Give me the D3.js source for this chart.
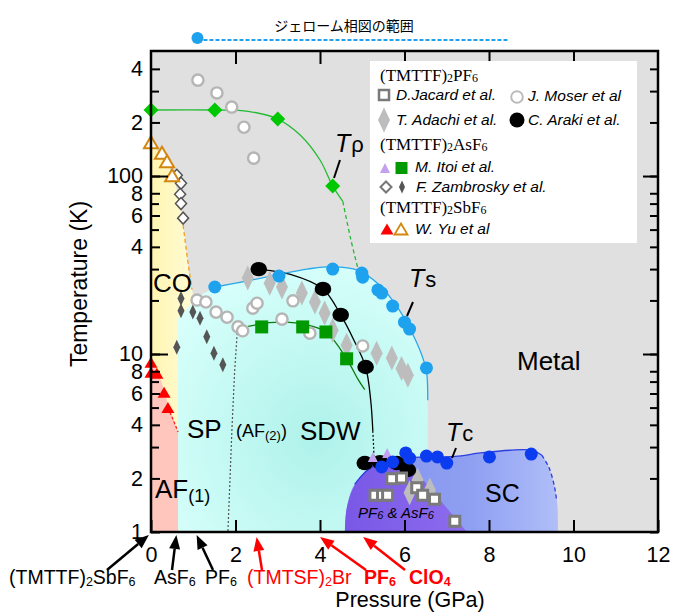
<!DOCTYPE html>
<html><head><meta charset="utf-8">
<script src="https://cdn.jsdelivr.net/npm/d3@7/dist/d3.min.js"></script>
<style>
html,body{margin:0;padding:0;background:#fff;}
svg{display:block;font-family:"Liberation Sans",Arial,sans-serif;}
</style></head><body>
<svg id="chart" width="673" height="613"></svg>
<script>
// ---------- axes ----------
const xTicks=[0,2,4,6,8,10,12];
const yTicksLabeled=[1,2,4,6,8,10,40,60,80,100,200,400];
const yTickText=["1","2","4","6","8","10","4","6","8","100","2","4"];
const yTicksMinor=[3,5,7,20,30,50,70,300];
const yTicksDecade=[10,100];
const jeromeRange=[1.1,8.45];

// ---------- series (pressure GPa, temperature K) ----------
const tRho=[[0,235],[1.51,235],[3.0,209],[4.3,88]];
const tRhoLine=[[0,235],[1.51,235],[2.3,231],[3.0,209],[3.53,170],[4.0,123],[4.3,88],[4.54,72]];
const tRhoDash=[[4.54,72],[4.72,45],[4.9,30]];

const moser=[[1.11,346],[1.56,293],[1.91,244],[2.20,188],[2.43,126],
 [1.09,20.1],[1.30,19.6],[1.54,17.2],[1.80,16.1],[2.06,14.2],[2.17,13.5],[2.41,18.1],[2.51,19.3],[3.10,15.7],[3.36,19.9],[3.76,13.1],[5.01,11.1]];

const araki=[[2.55,30],[4.07,23.2],[4.49,16.6],[5.08,8.45],[5.06,2.44],[5.42,2.47],[5.82,2.44],[6.08,2.23]];
const arakiLine=[[2.62,29.8],[3.3,28],[4.07,23.2],[4.49,16.6],[4.8,12],[5.08,8.45],[5.2,5.5],[5.25,3.7]];
const arakiDot=[[5.25,3.7],[5.27,3.0],[5.28,2.5]];

const ts=[[1.51,23.8],[3.03,27.4],[4.30,30.0],[4.99,28.5],[5.01,27],[5.37,22.9],[5.46,22],[5.72,18.6],[6.0,15.1],[6.12,13.8],[6.52,8.35]];
const tsLine=[[1.51,23.8],[2.3,25.8],[3.03,28],[3.7,30],[4.3,31],[4.9,29.5],[5.4,24.5],[5.8,18.8],[6.12,14.0],[6.4,10.0],[6.52,8.0],[6.55,5.5]];

const tc=[[5.46,2.32],[5.72,2.47],[6.03,2.78],[6.12,2.6],[6.52,2.67],[6.78,2.64],[7.0,2.44],[8.01,2.64],[9.0,2.74]];
const tcLine=[[4.82,1.85],[5.1,2.2],[5.5,2.5],[6.0,2.62],[6.6,2.64],[7.2,2.66],[7.8,2.78],[8.5,2.88],[9.0,2.88],[9.25,2.7]];
const tcDash=[[9.25,2.7],[9.42,2.3],[9.55,1.8],[9.6,1.5]];

const adachi=[[2.29,26.7],[2.81,25],[3.10,23.8],[3.57,22],[3.88,19.6],[4.11,17],[4.30,13.6],[4.63,11.2],[5.34,10.1],[5.70,9.5],[5.93,8.3],[6.08,7.6],[6.12,1.66],[6.31,1.96],[6.6,1.72]];
const jacard=[[5.30,1.61],[5.48,1.61],[5.60,1.61],[5.70,1.99],[5.93,2.01],[6.29,1.77],[6.43,1.61],[6.71,1.53],[7.19,1.15]];

const itoiSq=[[2.62,14.2],[3.59,14.2],[4.14,13.3],[4.63,9.4]];
const itoiLine=[[2.3,14.3],[2.8,15.0],[3.2,15.1],[3.6,14.7],[4.14,13.3],[4.63,9.4],[4.9,7.2],[5.06,6.3]];
const itoiTri=[[5.25,2.64],[5.59,2.78]];

const zambOpen=[[0.61,101],[0.71,91],[0.69,79],[0.71,70],[0.76,58]];
const zambFill=[[0.71,20.5],[0.71,17.5],[0.99,17.2],[1.16,15.9],[1.32,12.5],[0.61,10.9],[1.49,10.1],[1.70,8.7]];

const yuFill=[[0,9.0],[0,7.9],[0.14,7.8],[0.31,6.1],[0.40,5.0]];
const yuOpen=[[0,155],[0.26,135],[0.38,121],[0.50,101]];

// ---------- phase regions / boundaries ----------
const coRegion=[[0,153],[0.33,123],[0.5,101],[0.62,83],[0.69,69],[0.76,53],[0.85,36],[0.92,26],[0.99,22],[0.99,1],[0,1]];
const afRegion=[[0,9.5],[0.14,8.2],[0.31,6.3],[0.40,5.2],[0.64,3.65],[0.64,1],[0,1]];
const sdwLeft=[[0.64,1],[0.64,15.9],[0.92,18.8],[1.2,21.5]];
const sdwRight=[[6.55,1]];
const scRegion=[[4.59,1],[4.62,1.3],[4.72,1.65],[4.82,1.85],[5.1,2.2],[5.5,2.5],[6.0,2.62],[6.6,2.64],[7.2,2.66],[7.8,2.78],[8.5,2.88],[9.0,2.88],[9.25,2.7],[9.42,2.3],[9.55,1.8],[9.62,1.4],[9.63,1]];
const scDark=[[4.59,1],[4.63,1.35],[4.78,1.75],[5.0,2.1],[5.3,2.42],[5.7,2.58],[6.0,2.52],[6.13,2.4]];
const scDarkEnd=[[7.48,1]];
const redDash=[[0.40,5.0],[0.52,4.3],[0.64,3.65]];
const orangeDash=[[0.76,53],[0.85,36],[0.97,23]];
const grayDot=[[2.04,13.1],[1.98,8],[1.92,4],[1.87,2],[1.82,1]];

// ---------- setup ----------
const svg=d3.select("#chart");
const L=151,R=658,T=51,B=532;
const x=d3.scaleLinear().domain([0,12]).range([L,R]);
const y=d3.scaleLog().domain([1,504]).range([B,T]);
const defs=svg.append("defs");
function lin(id,stops,x2="100%",y2="0%"){const g=defs.append("linearGradient").attr("id",id).attr("x1","0%").attr("y1","0%").attr("x2",x2).attr("y2",y2);stops.forEach(s=>g.append("stop").attr("offset",s[0]).attr("stop-color",s[1]));}
lin("gYel",[["0%","#fff5b0"],["100%","#fffbd6"]]);
lin("gSc",[["0%","#8090ee"],["60%","#8fa0f2"],["100%","#b0bef8"]]);
lin("gDark",[["0%","#7858e6"],["100%","#8e6cee"]]);
const rg=defs.append("radialGradient").attr("id","gCy").attr("cx","55%").attr("cy","65%").attr("r","70%");
rg.append("stop").attr("offset","0%").attr("stop-color","#aef2ea");
rg.append("stop").attr("offset","100%").attr("stop-color","#d8fffb");
defs.append("clipPath").attr("id","clip").append("rect").attr("x",L).attr("y",T).attr("width",R-L).attr("height",B-T);

const lineLin=d3.line().x(d=>x(d[0])).y(d=>y(d[1]));
const lineCR=d3.line().x(d=>x(d[0])).y(d=>y(d[1])).curve(d3.curveCatmullRom);
const pts=a=>a.map(d=>`${x(d[0])},${y(d[1])}`).join("L");

svg.append("rect").attr("x",L).attr("y",T).attr("width",R-L).attr("height",B-T).attr("fill","#e0e0e0");
const reg=svg.append("g").attr("clip-path","url(#clip)");
reg.append("path").attr("d",lineCR(coRegion.slice(0,9))+"L"+pts(coRegion.slice(9))+"Z").attr("fill","url(#gYel)");
reg.append("path").attr("d","M"+pts(sdwLeft)+"L"+lineCR(tsLine).slice(1)+"L"+pts(sdwRight)+"Z").attr("fill","url(#gCy)");
reg.append("path").attr("d",lineLin(afRegion)+"Z").attr("fill","#ffc6bd");
reg.append("path").attr("d",lineCR(scRegion)+"Z").attr("fill","url(#gSc)");
reg.append("path").attr("d",lineCR(scDark)+"L"+pts(scDarkEnd)+"Z").attr("fill","url(#gDark)");

// boundary lines
const ln=svg.append("g").attr("fill","none");
ln.append("path").attr("d",lineLin(grayDot)).attr("stroke","#555").attr("stroke-width",1.2).attr("stroke-dasharray","2,2");
ln.append("path").attr("d",lineCR(tRhoLine)).attr("stroke","#22bb33").attr("stroke-width",1.3);
ln.append("path").attr("d",lineCR(tRhoDash)).attr("stroke","#22bb33").attr("stroke-width",1.3).attr("stroke-dasharray","4,3");
ln.append("path").attr("d",lineCR(arakiLine)).attr("stroke","#000").attr("stroke-width",1.3);
ln.append("path").attr("d",lineLin(arakiDot)).attr("stroke","#000").attr("stroke-width",1.2).attr("stroke-dasharray","2,2");
ln.append("path").attr("d",lineCR(itoiLine)).attr("stroke","#0a7a0a").attr("stroke-width",1.3);
ln.append("path").attr("d",lineCR(tsLine)).attr("stroke","#29a8e8").attr("stroke-width",1.3);
ln.append("path").attr("d",lineCR(tcLine)).attr("stroke","#2a3fe0").attr("stroke-width",1.3);
ln.append("path").attr("d",lineCR(tcDash)).attr("stroke","#2a3fe0").attr("stroke-width",1.3).attr("stroke-dasharray","4,3");
ln.append("path").attr("d",lineLin(redDash)).attr("stroke","#ff2020").attr("stroke-width",1.3).attr("stroke-dasharray","3,2");
ln.append("path").attr("d",lineLin(orangeDash)).attr("stroke","#f0a020").attr("stroke-width",1.3).attr("stroke-dasharray","4,3");

// markers
const mk=svg.append("g");
const diamond=(cx,cy,hw,hh)=>`M${cx},${cy-hh}L${cx+hw},${cy}L${cx},${cy+hh}L${cx-hw},${cy}Z`;
const tri=(cx,cy,hw,hh)=>`M${cx},${cy-hh}L${cx+hw},${cy+hh}L${cx-hw},${cy+hh}Z`;
function paths(data,fn,attrs){const s=mk.selectAll(null).data(data).enter().append("path").attr("d",d=>fn(x(d[0]),y(d[1])));Object.entries(attrs).forEach(([k,v])=>s.attr(k,v));}
paths(adachi,(a,b)=>diamond(a,b,6,12.5),{fill:"#bdbdbd"});
paths(zambFill,(a,b)=>diamond(a,b,3.5,7.5),{fill:"#555"});
paths(zambOpen,(a,b)=>diamond(a,b,5.5,6),{fill:"#fff",stroke:"#555","stroke-width":1.5});
paths(yuOpen,(a,b)=>tri(a,b,7,6),{fill:"#fff",stroke:"#d4870e","stroke-width":2});
paths(yuFill,(a,b)=>tri(a,b,6.5,5.5),{fill:"#ff0000"});
mk.selectAll(null).data(moser).enter().append("circle").attr("cx",d=>x(d[0])).attr("cy",d=>y(d[1])).attr("r",5.6).attr("fill","#fff").attr("stroke","#b5b5b5").attr("stroke-width",2.4);
paths(itoiSq,(a,b)=>`M${a-6.5},${b-6.5}h13v13h-13Z`,{fill:"#009a00"});
paths(tRho,(a,b)=>diamond(a,b,7.5,7.5),{fill:"#00c800"});
mk.selectAll(null).data(ts).enter().append("circle").attr("cx",d=>x(d[0])).attr("cy",d=>y(d[1])).attr("r",6.5).attr("fill","#1ea2ee");
mk.selectAll(null).data(araki).enter().append("ellipse").attr("cx",d=>x(d[0])).attr("cy",d=>y(d[1])).attr("rx",8.3).attr("ry",7.2).attr("fill","#000");
paths(itoiTri,(a,b)=>tri(a,b,5,5),{fill:"#c4a0f0"});
mk.selectAll(null).data(tc).enter().append("circle").attr("cx",d=>x(d[0])).attr("cy",d=>y(d[1])).attr("r",6.5).attr("fill","#0c3cf0");
paths(jacard,(a,b)=>`M${a-5},${b-5}h10v10h-10Z`,{fill:"#fff",stroke:"#7a7a7a","stroke-width":3});

// ---------- axes ----------
const ax=svg.append("g").attr("font-size",22);
function styleAx(g){g.select(".domain").remove();g.selectAll("line").attr("stroke","#000").attr("stroke-width",2);g.selectAll("text").attr("font-family","Liberation Sans, Arial, sans-serif").attr("font-size",21.5).attr("fill","#000");}
const labMap=new Map(yTicksLabeled.map((v,i)=>[v,yTickText[i]]));
ax.append("g").attr("transform",`translate(${L},0)`).call(d3.axisLeft(y).tickValues(yTicksLabeled).tickSize(-9).tickPadding(8).tickFormat(d=>labMap.get(d))).call(styleAx);
ax.append("g").attr("transform",`translate(${L},0)`).call(d3.axisLeft(y).tickValues(yTicksMinor).tickSize(-8).tickFormat("")).call(styleAx);
ax.append("g").attr("transform",`translate(${L},0)`).call(d3.axisLeft(y).tickValues(yTicksDecade).tickSize(-17).tickFormat("")).call(styleAx);
ax.append("g").attr("transform",`translate(${R},0)`).call(d3.axisRight(y).tickValues(yTicksLabeled.concat(yTicksMinor)).tickSize(-8).tickFormat("")).call(styleAx);
ax.append("g").attr("transform",`translate(${R},0)`).call(d3.axisRight(y).tickValues(yTicksDecade).tickSize(-15).tickFormat("")).call(styleAx);
ax.append("g").attr("transform",`translate(0,${B})`).call(d3.axisBottom(x).tickValues(xTicks).tickSize(-12).tickPadding(15)).call(styleAx);
ax.append("g").attr("transform",`translate(0,${T})`).call(d3.axisTop(x).tickValues(xTicks.slice(1,-1)).tickSize(-13).tickFormat("")).call(styleAx);
svg.append("rect").attr("x",L).attr("y",T).attr("width",R-L).attr("height",B-T).attr("fill","none").attr("stroke","#000").attr("stroke-width",2.5);

// axis titles
svg.append("text").attr("transform","translate(87,284) rotate(-90)").attr("text-anchor","middle").attr("font-size",23).text("Temperature (K)");
svg.append("text").attr("x",410).attr("y",607).attr("text-anchor","middle").attr("font-size",21.5).text("Pressure (GPa)");

// rich text helper: parts [text, isSub, shift]
function rich(g,xp,yp,parts,size,subSize,opts={}){
  const t=g.append("text").attr("x",xp).attr("y",yp).attr("font-size",size);
  Object.entries(opts).forEach(([k,v])=>t.attr(k,v));
  let shifted=false;
  parts.forEach(p=>{const s=t.append("tspan").text(p[0]);
    if(p[1]){s.attr("font-size",subSize).attr("dy",shifted?0:(p[2]||3));shifted=true;}
    else{ if(shifted){s.attr("dy",-(p[2]||3));} shifted=false; }
  });
  return t;
}

// region labels
const lb=svg.append("g");
lb.append("text").attr("x",153).attr("y",292).attr("font-size",26).text("CO");
lb.append("text").attr("x",187).attr("y",438).attr("font-size",26).text("SP");
rich(lb,236,437,[["(AF",false],["(2)",true,3],[")",false,3]],18,13);
lb.append("text").attr("x",300).attr("y",440).attr("font-size",26).text("SDW");
rich(lb,155,498,[["AF",false],["(1)",true,4]],26,18);
lb.append("text").attr("x",517).attr("y",370).attr("font-size",26).text("Metal");
lb.append("text").attr("x",485).attr("y",502).attr("font-size",25).text("SC");
rich(lb,358,518,[["PF",false],["6",true,1],[" & AsF",false,1],["6",true,1]],15,11,{"font-style":"italic"});

// T labels
function tLabel(xp,yp,sub,lx1,ly1,lx2,ly2){
  const t=lb.append("text").attr("x",xp).attr("y",yp).attr("font-size",25);
  t.append("tspan").attr("font-style","italic").text("T");
  t.append("tspan").attr("font-size",22).attr("dx",1).text(sub);
  lb.append("line").attr("x1",lx1).attr("y1",ly1).attr("x2",lx2).attr("y2",ly2).attr("stroke","#000").attr("stroke-width",2);
}
tLabel(335,152,"ρ",340,160,334,178);
tLabel(409,287,"s",413,302,407,316);
tLabel(446,441,"c",456,448,452,458);

// top annotation (range of Jerome phase diagram)
svg.append("text").attr("x",344).attr("y",31).attr("text-anchor","middle").attr("font-size",14).attr("font-family","Noto Sans CJK JP").text("ジェローム相図の範囲");
svg.append("line").attr("x1",x(jeromeRange[0])+6).attr("x2",x(jeromeRange[1])).attr("y1",40).attr("y2",40).attr("stroke","#1ea2ee").attr("stroke-width",2).attr("stroke-dasharray","4,2");
svg.append("circle").attr("cx",x(jeromeRange[0])).attr("cy",38).attr("r",6).attr("fill","#1ea2ee");

// ---------- legend ----------
const lg=svg.append("g");
lg.append("rect").attr("x",370).attr("y",61).attr("width",267).attr("height",182).attr("fill","#fff");
const serif={"font-family":"Liberation Serif, Times New Roman, serif"};
rich(lg,380,81,[["(TMTTF)",false],["2",true,1],["PF",false,1],["6",true,1]],17,12,serif);
rich(lg,380,150,[["(TMTTF)",false],["2",true,1],["AsF",false,1],["6",true,1]],17,12,serif);
rich(lg,380,213,[["(TMTTF)",false],["2",true,1],["SbF",false,1],["6",true,1]],17,12,serif);
const it=(xp,yp,s)=>lg.append("text").attr("x",xp).attr("y",yp).attr("font-size",15.5).attr("font-style","italic").text(s);
it(396,100,"D.Jacard et al."); it(528,101,"J. Moser et al");
it(396,125,"T. Adachi et al."); it(528,125,"C. Araki et al.");
it(415,172,"M. Itoi et al."); it(416,192,"F. Zambrosky et al."); it(415,234,"W. Yu et al");
lg.append("path").attr("d","M379,90h10v10h-10Z").attr("fill","#fff").attr("stroke","#7a7a7a").attr("stroke-width",2.5);
lg.append("circle").attr("cx",517).attr("cy",97).attr("r",5.8).attr("fill","#fff").attr("stroke","#bbb").attr("stroke-width",2);
lg.append("path").attr("d",diamond(384,120,6,12.5)).attr("fill","#bdbdbd");
lg.append("circle").attr("cx",517).attr("cy",120).attr("r",7.5).attr("fill","#000");
lg.append("path").attr("d",tri(385,168,5,5)).attr("fill","#c4a0f0");
lg.append("path").attr("d","M395.5,162h12v12h-12Z").attr("fill","#009a00");
lg.append("path").attr("d",diamond(386,187,5.5,5.5)).attr("fill","#fff").attr("stroke","#777").attr("stroke-width",2);
lg.append("path").attr("d",diamond(402,187,3,6.5)).attr("fill","#555");
lg.append("path").attr("d",tri(387,229,6.5,5.5)).attr("fill","#ff0000");
lg.append("path").attr("d",tri(401,229,6.5,5.5)).attr("fill","#fff").attr("stroke","#d4870e").attr("stroke-width",1.8);

// ---------- bottom arrows ----------
const arrows=[
 {p:-0.05,tail:[107,570],parts:[["(TMTTF)",false],["2",true,2],["SbF",false,2],["6",true,2]],lx:9,c:"#000",w:"normal"},
 {p:0.6,tail:[172,570],parts:[["AsF",false],["6",true,2]],lx:154,c:"#000",w:"normal"},
 {p:1.08,tail:[213,570],parts:[["PF",false],["6",true,2]],lx:205,c:"#000",w:"normal"},
 {p:2.5,tail:[262,570],parts:[["(TMTSF)",false],["2",true,2],["Br",false,2]],lx:247,c:"#ff0000",w:"normal"},
 {p:4.0,tail:[366,570],parts:[["PF",false],["6",true,2]],lx:364,c:"#ff0000",w:"bold"},
 {p:5.02,tail:[405,570],parts:[["ClO",false],["4",true,2]],lx:409,c:"#ff0000",w:"bold"}
];
const ar=svg.append("g");
arrows.forEach(a=>{
  const x2=x(a.p),y2=a.c==="#000"?535:537,x1=a.tail[0],y1=a.tail[1];
  const ang=Math.atan2(y2-y1,x2-x1),Lh=14,Wd=5.5;
  const bx=x2-Lh*Math.cos(ang),by=y2-Lh*Math.sin(ang);
  ar.append("line").attr("x1",x1).attr("y1",y1).attr("x2",bx).attr("y2",by).attr("stroke",a.c).attr("stroke-width",2.5);
  const px=-Math.sin(ang)*Wd,py=Math.cos(ang)*Wd;
  ar.append("path").attr("d",`M${x2},${y2}L${bx+px},${by+py}L${bx-px},${by-py}Z`).attr("fill",a.c);
  rich(ar,a.lx,584,a.parts,19.5,12.5,{fill:a.c,"font-weight":a.w});
});
</script></body></html>
